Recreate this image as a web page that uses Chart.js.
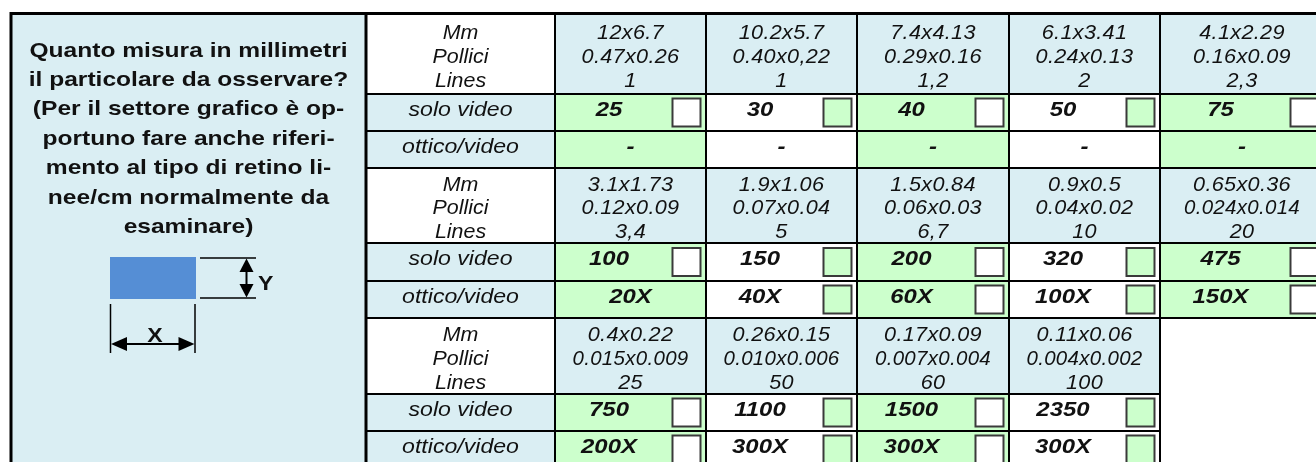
<!DOCTYPE html>
<html>
<head>
<meta charset="utf-8">
<script src="https://cdn.jsdelivr.net/npm/chart.js@4.4.0/dist/chart.umd.min.js"></script>
<style>
  html, body { margin: 0; padding: 0; background: #fff; }
  #wrap { width: 1316px; height: 462px; }
</style>
</head>
<body>
<div id="wrap"><canvas id="sizeChart" width="1316" height="462"></canvas></div>
<script>
// --- data ---
const questionLines = [
    'Quanto misura in millimetri',
    'il particolare da osservare?',
    '(Per il settore grafico è op-',
    'portuno fare anche riferi-',
    'mento al tipo di retino li-',
    'nee/cm normalmente da',
    'esaminare)'
];
const headerLabels = ['Mm', 'Pollici', 'Lines'];
const rowLabels = ['solo video', 'ottico/video'];

const sizeMm = ['12x6.7', '10.2x5.7', '7.4x4.13', '6.1x3.41', '4.1x2.29',
    '3.1x1.73', '1.9x1.06', '1.5x0.84', '0.9x0.5', '0.65x0.36',
    '0.4x0.22', '0.26x0.15', '0.17x0.09', '0.11x0.06'];
const sizeInches = ['0.47x0.26', '0.40x0,22', '0.29x0.16', '0.24x0.13', '0.16x0.09',
    '0.12x0.09', '0.07x0.04', '0.06x0.03', '0.04x0.02', '0.024x0.014',
    '0.015x0.009', '0.010x0.006', '0.007x0.004', '0.004x0.002'];
const sizeLines = ['1', '1', '1,2', '2', '2,3',
    '3,4', '5', '6,7', '10', '20',
    '25', '50', '60', '100'];
const soloVideo = ['25', '30', '40', '50', '75',
    '100', '150', '200', '320', '475',
    '750', '1100', '1500', '2350'];
const otticoVideo = ['-', '-', '-', '-', '-',
    '20X', '40X', '60X', '100X', '150X',
    '200X', '300X', '300X', '300X'];
const otticoHasBox = [false, false, false, false, false,
    false, true, true, true, true,
    true, true, true, true];

// --- layout, in the units of the hidden scales ---
const COL_EDGES = [366, 555, 706, 857, 1009, 1160, 1324];
const ROW_EDGES = [14, 94, 131, 168, 243, 281, 318, 394, 431, 468];
const PER_ROW = 5;

const LIGHT_BLUE = '#DAEEF3';
const LIGHT_GREEN = '#CCFFCC';
const INK = '#111111';
const FONT = '"Liberation Sans", Arial, sans-serif';

function cellOf(i) {
    const g = Math.floor(i / PER_ROW), c = i % PER_ROW;
    return {
        g: g, c: c,
        left: COL_EDGES[c + 1], right: COL_EDGES[c + 2],
        top: ROW_EDGES[g * 3], headBottom: ROW_EDGES[g * 3 + 1],
        soloBottom: ROW_EDGES[g * 3 + 2], bottom: ROW_EDGES[g * 3 + 3]
    };
}

// checkbox marks, one point per box
const boxPoints = [];
const boxFill = [];
soloVideo.forEach((v, i) => {
    const cell = cellOf(i);
    const fill = cell.c % 2 === 0 ? '#ffffff' : LIGHT_GREEN;
    boxPoints.push({ x: cell.right - 19.5, y: (cell.headBottom + cell.soloBottom) / 2 });
    boxFill.push(fill);
    if (otticoHasBox[i]) {
        boxPoints.push({ x: cell.right - 19.5, y: (cell.soloBottom + cell.bottom) / 2 });
        boxFill.push(fill);
    }
});

// text with a horizontal stretch, as the sheet renders it
function text(ctx, str, x, y, font, align, sx, spacing, maxW) {
    ctx.save();
    ctx.translate(x, y);
    ctx.scale(sx || 1, 1);
    ctx.font = font;
    ctx.textAlign = align || 'center';
    ctx.textBaseline = 'alphabetic';
    ctx.letterSpacing = (spacing || 0) + 'px';
    ctx.fillStyle = INK;
    if (maxW) ctx.fillText(str, 0, 0, maxW / (sx || 1));
    else ctx.fillText(str, 0, 0);
    ctx.restore();
}

function tri(ctx, pts) {
    ctx.beginPath();
    ctx.moveTo(pts[0][0], pts[0][1]);
    ctx.lineTo(pts[1][0], pts[1][1]);
    ctx.lineTo(pts[2][0], pts[2][1]);
    ctx.closePath();
    ctx.fill();
}

const tablePlugin = {
    id: 'sizeTable',
    beforeDatasetsDraw(chart) {
        const ctx = chart.ctx;
        const X = v => chart.scales.x.getPixelForValue(v);
        const Y = v => chart.scales.y.getPixelForValue(v);
        const fillRect = (x0, y0, x1, y1, color) => {
            ctx.fillStyle = color;
            ctx.fillRect(X(x0), Y(y0), X(x1) - X(x0), Y(y1) - Y(y0));
        };
        const line = (x0, y0, x1, y1, w, color) => {
            ctx.strokeStyle = color || '#000';
            ctx.lineWidth = w;
            ctx.beginPath();
            ctx.moveTo(X(x0), Y(y0));
            ctx.lineTo(X(x1), Y(y1));
            ctx.stroke();
        };
        ctx.save();

        // left question panel
        fillRect(11, 14, COL_EDGES[0], 462, LIGHT_BLUE);
        const bold = 'bold 21px ' + FONT;
        questionLines.forEach((s, k) => {
            text(ctx, s, X(188.5), Y(56.5 + k * 29.4), bold, 'center', 1.17);
        });

        // X / Y sketch
        fillRect(110, 257, 196, 299, '#558ED5');
        ctx.fillStyle = '#000';
        line(200, 258, 256, 258, 1.5);
        line(200, 298, 256, 298, 1.5);
        line(246.5, 268, 246.5, 288, 2);
        tri(ctx, [[X(246.5), Y(258.5)], [X(239.5), Y(272)], [X(253.5), Y(272)]]);
        tri(ctx, [[X(246.5), Y(297.5)], [X(239.5), Y(284)], [X(253.5), Y(284)]]);
        text(ctx, 'Y', X(258), Y(290), bold, 'left', 1.1);
        line(110.5, 304, 110.5, 353, 1.5);
        line(195, 304, 195, 353, 1.5);
        line(122, 344, 184, 344, 2);
        tri(ctx, [[X(111), Y(344)], [X(127), Y(337)], [X(127), Y(351)]]);
        tri(ctx, [[X(194.5), Y(344)], [X(178.5), Y(337)], [X(178.5), Y(351)]]);
        text(ctx, 'X', X(155), Y(341.5), bold, 'center', 1.1);

        // row labels column
        const labelX = (COL_EDGES[0] + COL_EDGES[1]) / 2;
        const italic = 'italic 21px ' + FONT;
        const boldItalic = 'bold italic 21px ' + FONT;
        for (let g = 0; g < 3; g++) {
            const top = ROW_EDGES[g * 3], hb = ROW_EDGES[g * 3 + 1];
            const sb = ROW_EDGES[g * 3 + 2], bot = ROW_EDGES[g * 3 + 3];
            fillRect(COL_EDGES[0], hb, COL_EDGES[1], bot, LIGHT_BLUE);
            const mid = (top + hb) / 2;
            [mid - 15, mid + 8.5, mid + 32.5].forEach((yy, k) => {
                text(ctx, headerLabels[k], X(labelX), Y(yy), italic, 'center', 1.02);
            });
            text(ctx, rowLabels[0], X(labelX), Y(hb + 21.5), italic, 'center', 1.1);
            text(ctx, rowLabels[1], X(labelX), Y(sb + 21.5), italic, 'center', 1.1);
        }

        // size cells
        soloVideo.forEach((v, i) => {
            const cell = cellOf(i);
            const fill = cell.c % 2 === 0 ? LIGHT_GREEN : '#ffffff';
            fillRect(cell.left, cell.top, cell.right, cell.headBottom, LIGHT_BLUE);
            fillRect(cell.left, cell.headBottom, cell.right, cell.bottom, fill);

            const cx = (cell.left + cell.right) / 2;
            const mid = (cell.top + cell.headBottom) / 2;
            const rows = [sizeMm[i], sizeInches[i], sizeLines[i]];
            [mid - 15, mid + 8.5, mid + 32.5].forEach((yy, k) => {
                text(ctx, rows[k], X(cx), Y(yy), italic, 'center', 1.03, 0.3,
                    X(cell.left + 116) - X(cell.left));
            });

            const valX = cell.left + (cell.right - cell.left - 43) / 2;
            text(ctx, soloVideo[i], X(valX), Y(cell.headBottom + 21.5), boldItalic, 'center', 1.14);
            const ox = otticoHasBox[i] ? valX : cx;
            text(ctx, otticoVideo[i], X(ox), Y(cell.soloBottom + 22), boldItalic, 'center', 1.14);
        });

        // grid
        line(11, 13.5, 1316, 13.5, 3);
        line(11, 12, 11, 462, 3);
        line(COL_EDGES[0], 14, COL_EDGES[0], 462, 3);
        for (let k = 1; k < COL_EDGES.length - 1; k++) {
            line(COL_EDGES[k], 14, COL_EDGES[k], 462, 2);
        }
        ROW_EDGES.slice(1, 7).forEach(y => line(COL_EDGES[0], y, 1316, y, 2));
        ROW_EDGES.slice(7, 9).forEach(y => line(COL_EDGES[0], y, COL_EDGES[5], y, 2));

        ctx.restore();
    }
};

new Chart(document.getElementById('sizeChart'), {
    type: 'scatter',
    data: {
        datasets: [{
            label: 'caselle',
            data: boxPoints,
            pointStyle: 'rect',
            pointRadius: 19.8,
            pointBackgroundColor: boxFill,
            pointBorderColor: '#3a3a3a',
            pointBorderWidth: 2,
            clip: false
        }]
    },
    options: {
        responsive: false,
        animation: false,
        events: [],
        layout: { padding: 0, autoPadding: false },
        plugins: {
            legend: { display: false },
            tooltip: { enabled: false }
        },
        scales: {
            x: { type: 'linear', min: 0, max: 1316, display: false },
            y: { type: 'linear', min: 0, max: 462, reverse: true, display: false }
        }
    },
    plugins: [tablePlugin]
});
</script>
</body>
</html>
